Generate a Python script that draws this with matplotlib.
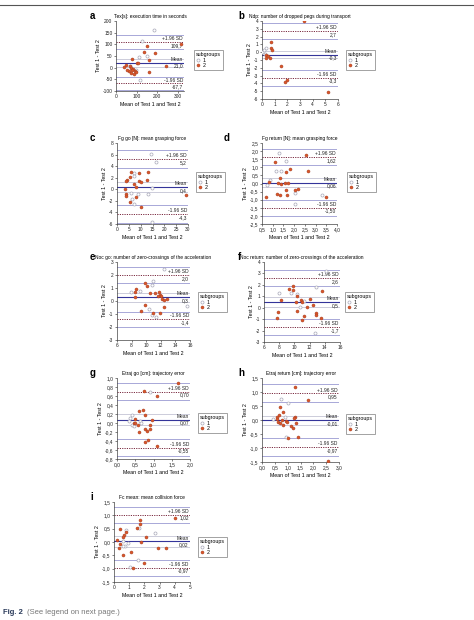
import matplotlib
matplotlib.use('Agg')
import matplotlib.pyplot as plt
from matplotlib.lines import Line2D
from matplotlib.ticker import FuncFormatter, MultipleLocator

plt.rcParams['font.family'] = ['Liberation Sans', 'DejaVu Sans']
plt.rcParams['axes.unicode_minus'] = False

# ---- data ----
# a: execution time
a_x1 = [183, 128, 112, 150, 117, 70, 95]
a_y1 = [163, 114, 47, 50, -51, 5, -10]
a_x2 = [150, 137, 187, 158, 317, 245, 162, 78, 100, 107, 50, 67, 73, 83, 78, 90, 62, 73, 87, 95, 53, 37]
a_y2 = [92, 67, 63, 32, 100, 9, -20, 35, 22, 19, 12, 5, 0, -4, -10, -13, -13, -23, -26, -20, -8, 3]
a_stats = [21.0, 109.7, -67.7, 17, 29]
a_labels = ['109,7', '21,0', '-67,7']

# b: dropped pegs
b_x1 = [0.3, 0.13, 0.2, 0.03]
b_y1 = [0.56, 0.26, -0.17, 0.0]
b_x2 = [3.3, 0.68, 0.68, 0.8, 0.3, 0.47, 0.66, 0.34, 1.47, 2.0, 1.85, 5.2]
b_y2 = [4.0, 1.3, 0.56, 0.26, -0.3, -0.43, -0.73, -0.73, -1.8, -3.5, -3.8, -5.15]
b_stats = [-0.3, 2.7, -3.3, 0.45, 1.0]
b_labels = ['2,7', '-0,3', '-3,3']

# c: grasping force go
c_x1 = [14.2, 16.5, 7.3, 7.3, 14.9, 6.1, 12.9, 8.9, 6.3, 7.0, 14.6]
c_y1 = [6.15, 4.7, 2.75, 2.35, 0.3, -0.6, -0.75, -0.9, -1.75, -2.6, -5.6]
c_x2 = [6.0, 13.3, 9.5, 5.3, 4.4, 3.8, 9.2, 10.1, 12.7, 7.0, 8.0, 3.2, 3.8, 3.8, 8.2, 29.3, 5.7, 10.1]
c_y2 = [3.05, 3.05, 2.8, 2.2, 1.6, 1.45, 1.45, 1.3, 1.6, 0.9, 0.4, 0.0, -0.9, -1.2, -1.35, -1.0, -2.2, -3.05]
c_stats = [0.4, 5.2, -4.3, 0.9, 1.6]
c_labels = ['5,2', '0,4', '-4,3']

# d: grasping force return
d_x1 = [1.27, 1.62, 1.14, 1.4, 0.86, 0.73, 2.05, 3.3, 2.02]
d_y1 = [1.87, 1.39, 0.76, 0.76, 0.19, -0.08, -0.61, -0.7, -1.28]
d_x2 = [2.55, 1.09, 1.79, 1.6, 2.63, 1.32, 0.81, 1.23, 1.4, 1.58, 1.7, 1.63, 2.2, 2.05,
        1.2, 1.36, 1.66, 3.5, 0.7]
d_y2 = [1.74, 1.32, 0.9, 0.69, 0.76, 0.34, 0.08, 0.02, -0.04, 0.02, 0.06, -0.4, -0.34, -0.4,
        -0.65, -0.71, -0.71, -0.82, -0.82]
d_stats = [0.06, 1.62, -1.50, 0.25, 0.48]
d_labels = ['1,62', '0,06', '-1,50']

# e: zero-crossings go
e_x1 = [12.5, 10.9, 10.8, 7.9, 9.1, 15.6, 10.4, 10.8, 11.4]
e_y1 = [2.45, 1.57, 1.24, 0.73, 0.78, -0.4, -0.58, -1.09, -1.2]
e_x2 = [9.9, 10.1, 8.6, 8.5, 10.5, 11.7, 11.2, 11.9, 12.0, 11.6, 12.2, 12.8, 12.4, 8.4,
        12.5, 9.9, 9.3, 10.9, 11.9]
e_y2 = [1.37, 1.19, 0.94, 0.73, 0.63, 0.68, 0.6, 0.5, 0.38, 0.38, 0.18, 0.18, 0.05, 0.3,
        -0.45, -0.33, -0.78, -0.89, -0.96]
e_stats = [0.3, 2.0, -1.4, 0.35, 0.58]
e_labels = ['2,0', '0,3', '-1,4']

# f: zero-crossings return
f_x1 = [14.2, 12.9, 8.0, 9.6, 10.4, 11.3, 10.7, 12.7]
f_y1 = [3.25, 1.8, 1.33, 1.33, 1.18, 0.56, 0.09, -2.23]
f_x2 = [8.2, 9.3, 9.8, 9.8, 10.4, 13.6, 10.9, 12.1, 10.2, 11.0, 11.6, 12.4, 10.4, 7.8,
        12.9, 12.9, 11.3, 7.7, 13.5, 11.0]
f_y2 = [0.71, 1.64, 1.86, 1.55, 1.02, 1.45, 0.68, 0.74, 0.46, 0.46, 0.06, 0.25, -0.31, -0.37,
        -0.46, -0.68, -0.71, -0.87, -0.87, -1.08]
f_stats = [0.5, 2.6, -1.7, 0.45, 0.7]
f_labels = ['2,6', '0,5', '-1,7']

# g: trajectory error go
g_x1 = [0.91, 0.4, 0.36, 0.32, 0.63, 0.67, 0.4, 0.47]
g_y1 = [0.68, 0.18, 0.11, 0.04, 0.04, 0.01, -0.04, -0.07]
g_x2 = [1.66, 0.74, 1.1, 0.6, 0.7, 0.76, 0.49, 0.47, 0.95, 0.91, 0.49, 0.57, 0.76, 0.82,
        0.6, 0.91, 0.85, 0.76, 1.1]
g_y2 = [0.9, 0.71, 0.6, 0.26, 0.28, 0.18, 0.09, 0.01, 0.07, -0.04, 0.0, -0.05, -0.14, -0.18,
        -0.2, -0.14, -0.38, -0.43, -0.52]
g_stats = [0.07, 0.70, -0.55, 0.12, 0.19]
g_labels = ['0,70', '0,07', '-0,55']

# h: trajectory error return
h_x1 = [0.74, 1.0, 0.89, 0.41, 0.93]
h_y1 = [0.74, 0.61, 0.12, 0.04, -0.61]
h_x2 = [1.29, 1.78, 0.72, 0.8, 0.67, 0.59, 1.29, 1.26, 0.57, 0.76, 0.93, 0.63, 0.72, 0.99,
        1.33, 0.83, 1.12, 1.2, 1.0, 1.42, 2.58]
h_y2 = [1.19, 0.73, 0.46, 0.28, 0.19, 0.12, 0.12, 0.06, 0.04, 0.0, -0.02, -0.06, -0.09, -0.06,
        -0.09, -0.18, -0.23, -0.27, -0.66, -0.61, -1.48]
h_stats = [-0.01, 0.95, -0.97, 0.16, 0.32]
h_labels = ['0,95', '-0,01', '-0,97']

# i: collision force
i_x1 = [2.68, 1.67, 0.77, 0.56, 0.92, 0.71, 0.56, 1.57, 1.03]
i_y1 = [0.34, 0.52, 0.46, 0.02, -0.04, -0.15, -0.15, -0.66, -0.95]
i_x2 = [4.03, 1.74, 1.74, 1.52, 0.39, 0.82, 0.67, 0.6, 2.1, 0.17, 1.78, 0.39, 0.32, 2.87,
        3.45, 1.14, 0.56, 2.0, 1.24]
i_y2 = [0.91, 0.82, 0.68, 0.53, 0.5, 0.38, 0.26, 0.2, 0.2, 0.08, 0.0, -0.06, -0.21, -0.21,
        -0.21, -0.37, -0.49, -0.78, -0.96]
i_stats = [0.02, 1.02, -0.97, 0.2, 0.3]
i_labels = ['1,02', '0,02', '-0,97']

titles = ['Tex[s]: execution time in seconds',
          'Ndp: number of dropped pegs during transport',
          'Fg go [N]: mean grasping force',
          'Fg return [N]: mean grasping force',
          'Noc go: number of zero-crossings of the acceleration',
          'Noc return: number of zero-crossings of the acceleration',
          'Etraj go [cm]: trajectory error',
          'Etraj return [cm]: trajectory error',
          'Fc mean: mean collision force']

W, H = 474, 620
fig = plt.figure(figsize=(W / 100, H / 100), dpi=100)

FS = 3.5
C_MEAN = '#34349a'
C_MEANCI = '#c4c4d4'
C_LOA = '#7a2a40'
C_LOACI = '#9a9ad2'
C_G1 = '#a8a8b8'
C_G2 = '#d9582c'


def comma(dec):
    return FuncFormatter(lambda v, p: (f'{v:.{dec}f}').replace('.', ','))


def panel(box, letter, letter_x, title, x1, y1, x2, y2, stats, labels,
          xlim, xstep, xdec, ylim, ystep, ydec, leg_xy):
    L, R, T, B = box
    ax = fig.add_axes([L / W, 1 - B / H, (R - L) / W, (B - T) / H])
    mean, up, lo, cim, cil = stats
    for v in (up + cil, up - cil, lo + cil, lo - cil):
        ax.axhline(v, color=C_LOACI, lw=0.6, zorder=1)
    for v in (mean + cim, mean - cim):
        ax.axhline(v, color=C_MEANCI, lw=0.6, zorder=1)
    ax.axhline(mean, color=C_MEAN, lw=0.8, zorder=1)
    for v in (up, lo):
        ax.axhline(v, color=C_LOA, lw=0.7, ls=(0, (1.2, 1.2)), zorder=1)
    for v, top, bot in ((up, '+1.96 SD', labels[0]), (mean, 'Mean', labels[1]),
                        (lo, '-1.96 SD', labels[2])):
        ax.annotate(top, xy=(0.985, v), xycoords=('axes fraction', 'data'),
                    xytext=(0, 0.6), textcoords='offset points',
                    ha='right', va='bottom', fontsize=FS, color='#222222')
        ax.annotate(bot, xy=(0.985, v), xycoords=('axes fraction', 'data'),
                    xytext=(0, -0.6), textcoords='offset points',
                    ha='right', va='top', fontsize=FS, color='#222222')
    ax.plot(x1, y1, 'o', ms=2.2, mfc='white', mec=C_G1, mew=0.5, ls='none', zorder=3)
    ax.plot(x2, y2, 'o', ms=2.2, mfc=C_G2, mec='#a03a20', mew=0.3, ls='none', zorder=3)
    ax.set_xlim(*xlim)
    ax.set_ylim(*ylim)
    ax.xaxis.set_major_locator(MultipleLocator(xstep))
    ax.yaxis.set_major_locator(MultipleLocator(ystep))
    ax.xaxis.set_major_formatter(comma(xdec))
    ax.yaxis.set_major_formatter(comma(ydec))
    ax.spines['top'].set_visible(False)
    ax.spines['right'].set_visible(False)
    for s in ('left', 'bottom'):
        ax.spines[s].set_linewidth(0.5)
        ax.spines[s].set_color('#444444')
    ax.tick_params(labelsize=FS, length=1.5, width=0.4, pad=1, colors='#222222')
    ax.set_xlabel('Mean of Test 1 and Test 2', fontsize=FS + 0.3, labelpad=1.5)
    ax.set_ylabel('Test 1 - Test 2', fontsize=FS + 0.3, labelpad=1.5)
    ax.set_title(title, fontsize=FS, pad=2.5)
    fig.text(letter_x / W, 1 - (T - 5) / H, letter, fontsize=7, fontweight='bold',
             ha='left', va='center')
    handles = [Line2D([], [], marker='o', ms=2.2, mfc='white', mec=C_G1, mew=0.5, ls='none'),
               Line2D([], [], marker='o', ms=2.2, mfc=C_G2, mec='#a03a20', mew=0.3, ls='none')]
    leg = ax.legend(handles, ['1', '2'], title='subgroups', loc='upper left',
                    bbox_to_anchor=(leg_xy[0] / W, 1 - leg_xy[1] / H),
                    bbox_transform=fig.transFigure, fontsize=FS + 0.3,
                    title_fontsize=FS + 0.3, alignment='left', fancybox=False,
                    handlelength=0.8, handletextpad=0.5, borderpad=0.4,
                    labelspacing=0.1, borderaxespad=0)
    leg.get_frame().set_edgecolor('#777777')
    leg.get_frame().set_linewidth(0.6)
    return ax


panel((116, 184, 21, 91), 'a', 90, titles[0], a_x1, a_y1, a_x2, a_y2, a_stats, a_labels,
      (0, 330), 100, 0, (-100, 200), 50, 0, (194, 50))
panel((262, 338, 21, 99), 'b', 238, titles[1], b_x1, b_y1, b_x2, b_y2, b_stats, b_labels,
      (0, 6), 1, 0, (-6, 4), 1, 0, (346, 50))
panel((117, 188, 143, 224), 'c', 90, titles[2], c_x1, c_y1, c_x2, c_y2, c_stats, c_labels,
      (0, 30), 5, 0, (-6, 8), 2, 0, (196, 172))
panel((262, 337, 143, 224), 'd', 224, titles[3], d_x1, d_y1, d_x2, d_y2, d_stats, d_labels,
      (0.5, 4.0), 0.5, 1, (-2.5, 2.5), 0.5, 1, (347, 172))
panel((117, 190, 262, 340), 'e', 90, titles[4], e_x1, e_y1, e_x2, e_y2, e_stats, e_labels,
      (6, 16), 2, 0, (-3, 3), 1, 0, (198, 292))
panel((264, 340, 262, 342), 'f', 238, titles[5], f_x1, f_y1, f_x2, f_y2, f_stats, f_labels,
      (6, 16), 2, 0, (-3, 4), 1, 0, (345, 292))
panel((117, 190, 378, 459), 'g', 90, titles[6], g_x1, g_y1, g_x2, g_y2, g_stats, g_labels,
      (0, 2.0), 0.5, 1, (-0.8, 1.0), 0.2, 1, (198, 413))
panel((262, 339, 378, 462), 'h', 238, titles[7], h_x1, h_y1, h_x2, h_y2, h_stats, h_labels,
      (0, 3.0), 0.5, 1, (-1.5, 1.5), 0.5, 1, (346, 414))
panel((114, 190, 502, 582), 'i', 90, titles[8], i_x1, i_y1, i_x2, i_y2, i_stats, i_labels,
      (0, 5), 1, 0, (-1.5, 1.5), 0.5, 1, (198, 537))

# top rule and caption
fig.add_artist(Line2D([0, 1], [1 - 5 / H, 1 - 5 / H], transform=fig.transFigure,
                      color='#555555', lw=0.8))
fig.text(3 / W, 1 - 613 / H, 'Fig. 2', fontsize=5.5, fontweight='bold', color='#2a3a5a',
         ha='left', va='center')
fig.text(27 / W, 1 - 613 / H, '(See legend on next page.)', fontsize=5.5, color='#777777',
         ha='left', va='center')

fig.savefig('out.png', dpi=100)
